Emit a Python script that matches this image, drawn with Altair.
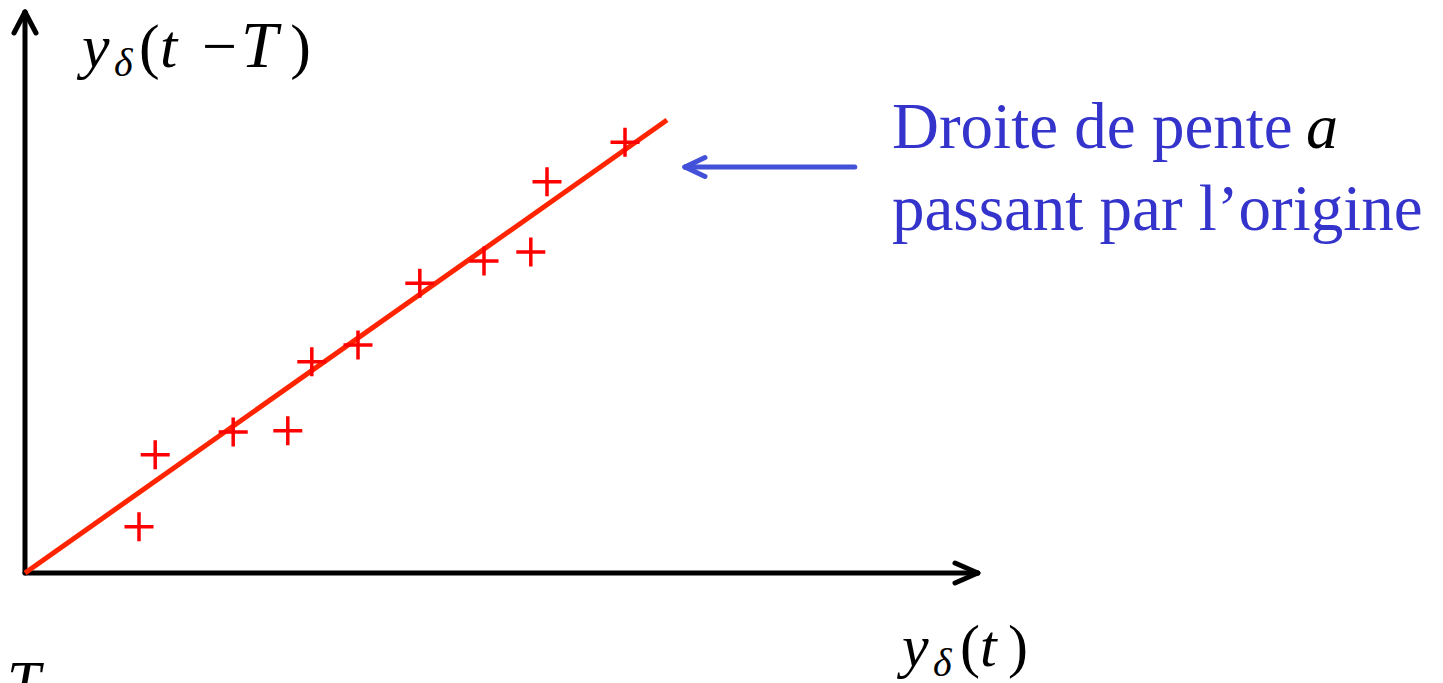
import altair as alt
import pandas as pd

# ---- data (arbitrary units) ----
sample_x = [1.90, 2.17, 3.47, 4.38, 4.78, 5.55, 6.58, 7.65, 8.43, 8.70, 10.00]
sample_y = [0.77, 1.97, 2.35, 2.37, 3.52, 3.80, 4.83, 5.20, 5.35, 6.52, 7.18]
fit_x = [0.0, 10.70]
fit_y = [0.0, 7.55]

# axis arrows (black) and annotation arrow (blue): segments x, y, x2, y2
axis_seg = [
    (0.0, 0.0, 0.0, 9.35),
    (0.0, 9.35, -0.183, 9.0),
    (0.0, 9.35, 0.183, 9.0),
    (0.0, 0.0, 15.88, 0.0),
    (15.88, 0.0, 15.50, 0.167),
    (15.88, 0.0, 15.50, -0.167),
]
note_seg = [
    (13.83, 6.767, 11.0, 6.767),
    (11.0, 6.767, 11.333, 6.925),
    (11.0, 6.767, 11.333, 6.608),
]

# text pieces: text, x, y(baseline), size, italic, color
texts = [
    ("y", 0.95, 8.433, 62, True, "black"),
    ("δ", 1.483, 8.283, 40, True, "black"),
    ("(", 1.9, 8.433, 62, False, "black"),
    ("t", 2.25, 8.433, 62, True, "black"),
    ("−", 2.95, 8.433, 62, False, "black"),
    ("T", 3.6, 8.433, 66, True, "black"),
    (")", 4.42, 8.433, 62, False, "black"),
    ("y", 14.617, -1.55, 60, True, "black"),
    ("δ", 15.133, -1.717, 40, True, "black"),
    ("(", 15.583, -1.55, 60, False, "black"),
    ("t", 15.917, -1.55, 60, True, "black"),
    (")", 16.383, -1.55, 60, False, "black"),
    ("T", -0.3, -2.15, 60, True, "black"),
    ("Droite de pente", 14.45, 7.083, 65, False, "#3434cc"),
    ("a", 21.35, 7.083, 64, True, "black"),
    ("passant par l’origine", 14.45, 5.717, 65, False, "#3434cc"),
]

W, H = 1427, 675
XD = [-17 / 60, (W - 17) / 60]
YD = [-(H - 565) / 60, 565 / 60]

xs = alt.Scale(domain=XD, nice=False, zero=False)
ys = alt.Scale(domain=YD, nice=False, zero=False)

pts = pd.DataFrame({"x": sample_x, "y": sample_y})
fit = pd.DataFrame({"x": fit_x, "y": fit_y})
ax = pd.DataFrame(axis_seg, columns=["x", "y", "x2", "y2"])
nt = pd.DataFrame(note_seg, columns=["x", "y", "x2", "y2"])
tx = pd.DataFrame(texts, columns=["text", "x", "y", "size", "italic", "color"])

X = alt.X("x:Q", scale=xs, axis=None)
Y = alt.Y("y:Q", scale=ys, axis=None)

fit_layer = alt.Chart(fit).mark_line(color="#ff2400", strokeWidth=5, clip=False).encode(x=X, y=Y)

pts_layer = alt.Chart(pts).mark_point(
    shape="M-1,0L1,0M0,-1L0,1", filled=False, color="#ff0000", strokeWidth=3.5, size=841, opacity=1
).encode(x=X, y=Y)

axis_layer = alt.Chart(ax).mark_rule(color="black", strokeWidth=5, strokeCap="round").encode(
    x=X, y=Y, x2="x2:Q", y2="y2:Q")
note_layer = alt.Chart(nt).mark_rule(color="#4350d8", strokeWidth=5, strokeCap="round").encode(
    x=X, y=Y, x2="x2:Q", y2="y2:Q")

def text_layer(italic):
    return alt.Chart(tx[tx["italic"] == italic]).mark_text(
        align="left", baseline="alphabetic", font="Liberation Serif",
        fontStyle="italic" if italic else "normal"
    ).encode(
        x=X, y=Y, text="text:N",
        size=alt.Size("size:Q", scale=None),
        color=alt.Color("color:N", scale=None),
    )

chart = alt.layer(
    axis_layer, fit_layer, pts_layer, note_layer, text_layer(False), text_layer(True)
).properties(
    width=W, height=H, autosize=alt.AutoSizeParams(type="none"), padding=0, background="white"
).configure_view(stroke=None)

chart.save("out.html", embed_options={"renderer": "svg", "actions": False})
